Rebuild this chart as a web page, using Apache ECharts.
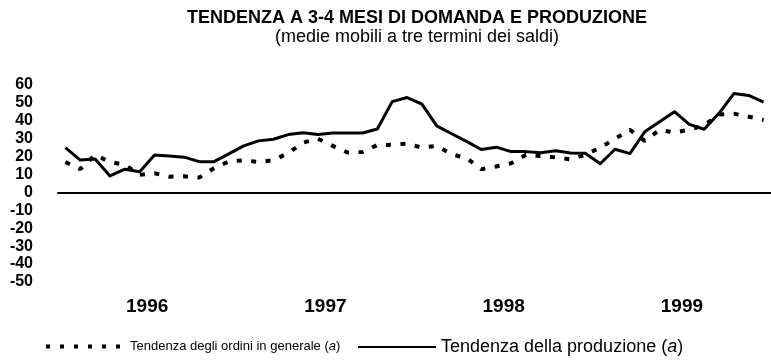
<!DOCTYPE html>
<html>
<head>
<meta charset="utf-8">
<script src="https://cdn.jsdelivr.net/npm/echarts@6/dist/echarts.min.js"></script>
<style>
  html, body { margin: 0; padding: 0; background: #fff; }
  #chart { width: 771px; height: 363px; }
</style>
</head>
<body>
<div id="chart"></div>
<script>
// Years shown under the axis; monthly observations Jan 1996 - Dec 1999
const years = ['1996', '1997', '1998', '1999'];
const monthCodes = ['01','02','03','04','05','06','07','08','09','10','11','12'];
const months = [];
years.forEach(y => monthCodes.forEach(m => months.push(y + '-' + m)));

// Three-term moving averages of the balances
const ordini = [
  17, 13, 21, 17, 15.5, 9.8, 10.7, 8.8, 9, 8.3, 13.5, 17.3,
  18, 17, 18, 22, 27.8, 30, 26, 22.3, 22.6, 26.5, 26.6, 27.3,
  25, 26, 21.3, 19.2, 13, 14.5, 16.3, 21, 20.3, 19.6, 18.5, 21,
  25, 30, 35, 28.8, 34.9, 33.5, 35, 37.5, 43.5, 44, 42.3, 40.5
];
const produzione = [
  25, 18.1, 18.7, 9.2, 13, 11.6, 20.9, 20.3, 19.7, 17.2, 17.2, 21.5,
  26, 28.8, 29.7, 32.3, 33.4, 32.3, 33.2, 33.2, 33.2, 35.4, 50.7, 53,
  49.3, 37.2, 32.8, 28.5, 24, 25.3, 22.8, 22.8, 22.2, 23.3, 22, 21.9,
  16, 24.1, 21.7, 33.9, 39.5, 45.1, 38, 35.3, 44.2, 55.2, 54.2, 50.4
];

const yMin = -50, yMax = 60, yStep = 10;

const nameOrdini = 'Tendenza degli ordini in generale (a)';
const nameProduzione = 'Tendenza della produzione (a)';

const FONT = "'Liberation Sans', Arial, Helvetica, sans-serif";

const chart = echarts.init(document.getElementById('chart'), null, { renderer: 'canvas' });

const italicA = name => name.replace('(a)', '({i|a})');
// legend shows only the line sample, no marker
const hiddenMarker = { color: 'rgba(0,0,0,0)', borderColor: 'rgba(0,0,0,0)', borderWidth: 0 };

chart.setOption({
  animation: false,
  backgroundColor: '#fff',
  title: {
    text: 'TENDENZA A 3-4 MESI DI DOMANDA E PRODUZIONE',
    subtext: '(medie mobili a tre termini dei saldi)',
    left: 412,
    top: 4,
    textAlign: 'center',
    itemGap: 1,
    textStyle: { fontFamily: FONT, fontSize: 18, fontWeight: 'bold', color: '#000' },
    subtextStyle: { fontFamily: FONT, fontSize: 18, color: '#000' }
  },
  grid: { left: 58, top: 85, width: 718, height: 197, containLabel: false },
  xAxis: [
    {
      type: 'category',
      data: months,
      boundaryGap: true,
      position: 'bottom',
      axisLine: { onZero: true, lineStyle: { color: '#000', width: 2 } },
      axisTick: { show: false },
      axisLabel: { show: false },
      splitLine: { show: false }
    },
    {
      type: 'category',
      data: years,
      boundaryGap: true,
      position: 'bottom',
      axisLine: { show: false, onZero: false },
      axisTick: { show: false },
      splitLine: { show: false },
      axisLabel: { color: '#000', fontFamily: FONT, fontWeight: 'bold', fontSize: 19, margin: 15 }
    }
  ],
  yAxis: {
    type: 'value',
    min: yMin,
    max: yMax,
    interval: yStep,
    axisLine: { show: false },
    axisTick: { show: false },
    splitLine: { show: false },
    axisLabel: { color: '#000', fontFamily: FONT, fontWeight: 'bold', fontSize: 16, margin: 25 }
  },
  legend: [
    {
      data: [nameOrdini],
      left: 44,
      top: 340,
      padding: 0,
      itemWidth: 79,
      itemHeight: 14,
      selectedMode: false,
      formatter: italicA,
      itemStyle: hiddenMarker,
      lineStyle: { type: [4, 10], width: 4 },
      textStyle: {
        color: '#000', fontFamily: FONT, fontSize: 13,
        rich: { i: { fontFamily: FONT, fontSize: 13, fontStyle: 'italic', color: '#000' } }
      }
    },
    {
      data: [nameProduzione],
      left: 357,
      top: 338,
      padding: 0,
      itemWidth: 78,
      itemHeight: 14,
      selectedMode: false,
      formatter: italicA,
      itemStyle: hiddenMarker,
      textStyle: {
        color: '#000', fontFamily: FONT, fontSize: 18,
        rich: { i: { fontFamily: FONT, fontSize: 18, fontStyle: 'italic', color: '#000' } }
      }
    }
  ],
  series: [
    {
      name: nameOrdini,
      type: 'line',
      data: ordini,
      symbol: 'none',
      itemStyle: { color: '#000' },
      lineStyle: { color: '#000', width: 4, type: [5, 9.5], cap: 'butt' }
    },
    {
      name: nameProduzione,
      type: 'line',
      data: produzione,
      symbol: 'none',
      itemStyle: { color: '#000' },
      lineStyle: { color: '#000', width: 3, join: 'round' }
    }
  ]
});
</script>
</body>
</html>
